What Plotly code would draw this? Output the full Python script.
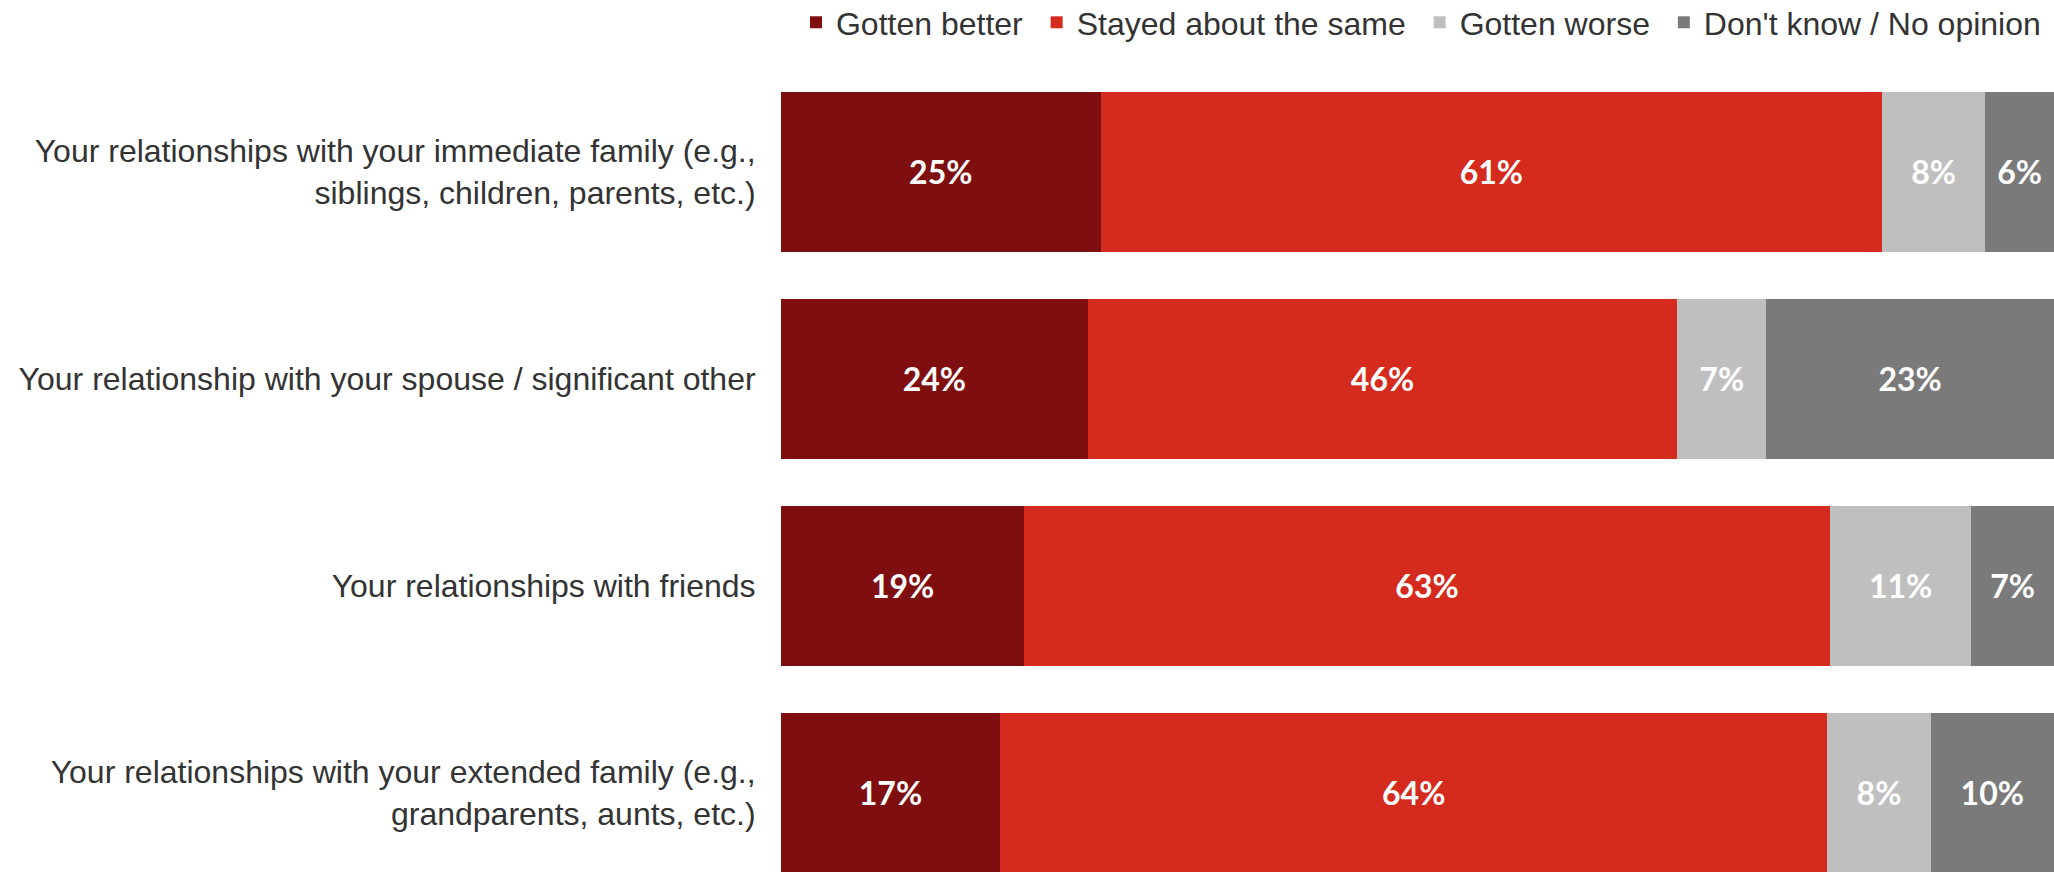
import plotly.graph_objects as go

categories = [
    "Your relationships with your immediate family (e.g.,<br>siblings, children, parents, etc.)",
    "Your relationship with your spouse / significant other",
    "Your relationships with friends",
    "Your relationships with your extended family (e.g.,<br>grandparents, aunts, etc.)",
]
series_names = ["Gotten better", "Stayed about the same", "Gotten worse", "Don't know / No opinion"]

# bar lengths (share of respondents, %)
gotten_better = [25.1, 24.1, 19.1, 17.2]
stayed_same = [61.4, 46.3, 63.3, 65.0]
gotten_worse = [8.1, 7.0, 11.1, 8.1]
dont_know = [5.4, 22.6, 6.5, 9.7]

# printed labels
gotten_better_labels = ["25%", "24%", "19%", "17%"]
stayed_same_labels = ["61%", "46%", "63%", "64%"]
gotten_worse_labels = ["8%", "7%", "11%", "8%"]
dont_know_labels = ["6%", "23%", "7%", "10%"]

colors = ["#7F0E10", "#D52B1E", "#BFBFBF", "#7A7A7A"]

series = [gotten_better, stayed_same, gotten_worse, dont_know]
labels = [gotten_better_labels, stayed_same_labels, gotten_worse_labels, dont_know_labels]

fig = go.Figure()
for i, (name, vals, labs, col) in enumerate(zip(series_names, series, labels, colors)):
    legend_name = name + ("\u00a0" if i < len(series_names) - 1 else "")
    fig.add_trace(go.Bar(
        y=categories,
        x=vals,
        orientation="h",
        name=legend_name,
        marker=dict(color=col, line=dict(width=0)),
        text=labs,
        textposition="inside",
        insidetextanchor="middle",
        textangle=0,
        constraintext="none",
        textfont=dict(family="Lato", size=32, color="white", weight="bold"),
        hoverinfo="skip",
    ))

fig.update_layout(
    barmode="stack",
    bargap=0.227,
    width=2054,
    height=872,
    margin=dict(l=781, r=0, t=68, b=0, pad=0, autoexpand=False),
    paper_bgcolor="white",
    plot_bgcolor="white",
    showlegend=True,
    legend=dict(
        orientation="h",
        x=0.9937, xanchor="right",
        y=1.0908, yanchor="top",
        font=dict(family="Liberation Sans, Arial", size=32, color="#333333"),
        traceorder="normal",
        itemclick=False,
        bgcolor="rgba(0,0,0,0)",
    ),
    xaxis=dict(range=[0, 100], visible=False, fixedrange=True),
    yaxis=dict(
        type="category",
        categoryorder="array",
        categoryarray=categories,
        range=[3.382, -0.502],
        showgrid=False,
        zeroline=False,
        showline=False,
        ticks="outside",
        ticklen=18,
        tickcolor="rgba(0,0,0,0)",
        tickfont=dict(family="Liberation Sans, Arial", size=32, color="#333333"),
        fixedrange=True,
    ),
)

fig.write_html(
    "out.html",
    config={"displayModeBar": False},
    post_script="document.body.style.margin='0';document.body.style.overflow='hidden';",
)
